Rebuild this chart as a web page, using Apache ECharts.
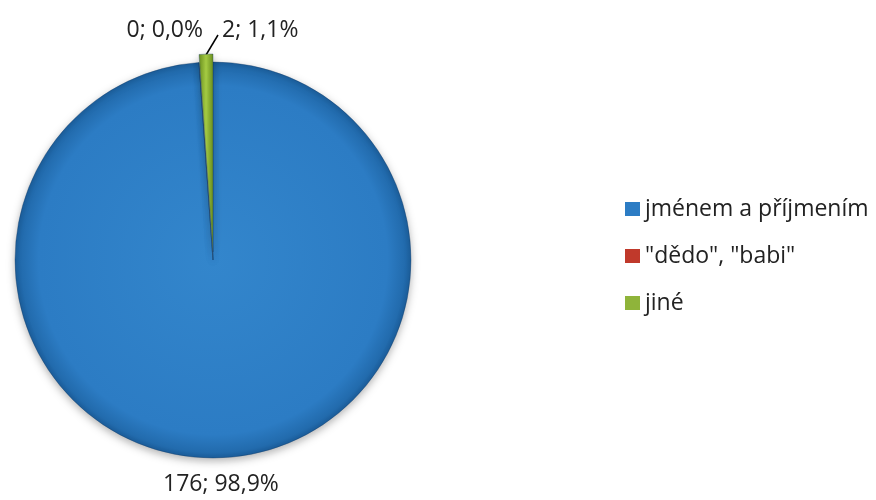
<!DOCTYPE html>
<html>
<head>
<meta charset="utf-8">
<script src="https://cdn.jsdelivr.net/npm/echarts@6/dist/echarts.min.js"></script>
<style>
html,body{margin:0;padding:0;background:#fff;}
#c{width:876px;height:500px;}
</style>
</head>
<body>
<div id="c"></div>
<script>
const categories = ['jménem a příjmením', '"dědo", "babi"', 'jiné'];
const values = [176, 0, 2];
const colors = ['#2c7cc4', '#c0392b', '#8fb43a'];

const CX = 213, CY = 260, R = 198;
const EXPLODE = 8;
const total = values.reduce((a, b) => a + b, 0);
function fmtLabel(v) {
  return v + '; ' + (v / total * 100).toFixed(1).replace('.', ',') + '%';
}

const chart = echarts.init(document.getElementById('c'), null, {renderer: 'canvas'});

const blueGrad = {
  type: 'radial', x: 0.5, y: 0.5, r: 0.5,
  colorStops: [
    {offset: 0, color: '#3386cc'},
    {offset: 0.88, color: '#2c7cc4'},
    {offset: 0.97, color: '#226bad'},
    {offset: 1, color: '#1b5c99'}
  ]
};
const greenGrad = {
  type: 'linear', x: 0, y: 0, x2: 1, y2: 0,
  colorStops: [
    {offset: 0, color: '#6a8f1e'},
    {offset: 0.5, color: '#a6cc44'},
    {offset: 1, color: '#6a8f1e'}
  ]
};

// main pie: exploded slice (jiné) left empty here, drawn by the second series
const mainData = categories.map((name, i) => ({
  name: name,
  value: values[i],
  itemStyle: {color: i === 0 ? blueGrad : (i === 2 ? 'rgba(0,0,0,0)' : colors[i]),
              borderWidth: i === 2 ? 0 : 0.6,
              shadowBlur: i === 2 ? 0 : 8}
}));
// exploded slice series: only jiné visible
const explodedData = categories.map((name, i) => ({
  name: name,
  value: values[i],
  itemStyle: i === 2 ? {color: greenGrad} : {color: 'rgba(0,0,0,0)', borderWidth: 0, shadowBlur: 0},
  label: {show: false},
  labelLine: {show: false}
}));

function midAngleDeg(idx) {
  let before = 0;
  for (let i = 0; i < idx; i++) before += values[i];
  const frac = (before + values[idx] / 2) / total;
  return frac * 360; // clockwise from 12 o'clock
}

const baseSeries = {
  type: 'pie',
  radius: R,
  startAngle: 90,
  clockwise: true,
  avoidLabelOverlap: false,
  silent: true,
  legendHoverLink: false,
  itemStyle: {
    borderColor: 'rgba(20,60,100,0.6)',
    borderWidth: 0.6,
    shadowBlur: 8,
    shadowColor: 'rgba(0,0,0,0.3)',
    shadowOffsetY: 3
  }
};

chart.setOption({
  animation: false,
  textStyle: {fontFamily: 'Open Sans'},
  color: colors,
  legend: {
    orient: 'vertical',
    left: 620,
    top: 192,
    itemWidth: 15,
    itemHeight: 14,
    itemGap: 23,
    icon: 'rect',
    selectedMode: false,
    data: categories.map((n, i) => ({name: n, itemStyle: {color: colors[i], borderWidth: 0, shadowBlur: 0}})),
    textStyle: {fontFamily: 'Open Sans', fontSize: 23, color: '#222', lineHeight: 24}
  },
  series: [
    Object.assign({}, baseSeries, {
      name: 'main',
      center: [CX, CY],
      label: {
        show: true,
        formatter: p => fmtLabel(p.value),
        fontFamily: 'Open Sans',
        fontSize: 23,
        color: '#222'
      },
      labelLine: {show: true, length: 10, length2: 0, lineStyle: {color: '#000', width: 1.5}},
      labelLayout: function (p) {
        const none = [[0, 0], [0, 0], [0, 0]];
        if (p.dataIndex === 0) {
          const a = midAngleDeg(0) * Math.PI / 180;
          const d = R + 27;
          return {x: CX + Math.sin(a) * d, y: CY - Math.cos(a) * d, align: 'center', verticalAlign: 'middle', labelLinePoints: none};
        }
        if (p.dataIndex === 1) {
          return {x: CX - 10, y: CY - R - 32, align: 'right', verticalAlign: 'middle', labelLinePoints: none};
        }
        return {x: CX + 9, y: CY - R - 32, align: 'left', verticalAlign: 'middle',
          labelLinePoints: [[CX - 7, CY - R - EXPLODE + 1], [CX + 5, CY - R - 27], [CX + 5, CY - R - 27]]};
      },
      data: mainData
    }),
    Object.assign({}, baseSeries, {
      name: 'exploded',
      center: [CX, CY - EXPLODE],
      label: {show: false},
      labelLine: {show: false},
      data: explodedData
    })
  ]
});
</script>
</body>
</html>
